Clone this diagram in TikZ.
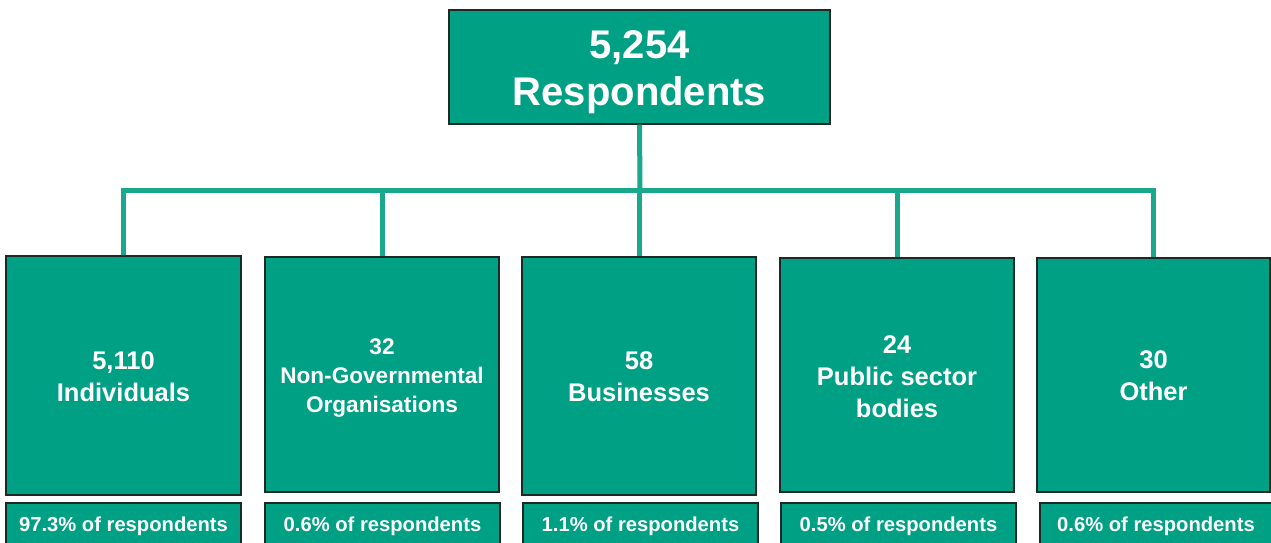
\documentclass[tikz,border=0pt]{standalone}
\usepackage{fontspec}
\setmainfont{Liberation Sans}
\definecolor{teal1}{RGB}{0,160,132}
\definecolor{connc}{RGB}{26,168,140}
\definecolor{edge}{RGB}{30,40,36}
\tikzset{
  box/.style={draw=edge, line width=1.3pt, fill=teal1, inner sep=0pt},
  txt/.style={text=white, inner sep=0pt, align=center},
  bigtxt/.style={txt, font=\fontsize{40}{47}\selectfont\bfseries},
  midtxt/.style={txt, font=\fontsize{25.5}{32}\selectfont\bfseries},
  smalltxt/.style={txt, font=\fontsize{22.6}{29}\selectfont\bfseries},
  striptxt/.style={txt, font=\fontsize{20.2}{24}\selectfont\bfseries},
  conn/.style={draw=connc, line width=5pt}
}
\begin{document}
\begin{tikzpicture}[x=1pt,y=-1pt]
\useasboundingbox (0,0) rectangle (1271,542);
\clip (0,0) rectangle (1271,542);
\node[box, minimum width=381pt, minimum height=114pt] (top) at (639.5,67) {};
\node[bigtxt] (ttop) at ([yshift=-5pt]top.center) {5,254\\Respondents};
\node[box, minimum width=235pt, minimum height=239pt] (b1) at (123.5,375.5) {};
\node[midtxt] (t1) at ([yshift=-1pt]b1.center) {5,110\\Individuals};
\node[box, minimum width=234pt, minimum height=235pt] (b2) at (382,374.5) {};
\node[smalltxt] (t2) at ([yshift=-3.5pt]b2.center) {32\\Non-Governmental\\Organisations};
\node[box, minimum width=234pt, minimum height=238pt] (b3) at (639,376) {};
\node[midtxt] (t3) at ([yshift=-1pt]b3.center) {58\\Businesses};
\node[box, minimum width=234pt, minimum height=234pt] (b4) at (897,375) {};
\node[midtxt] (t4) at ([yshift=-2pt]b4.center) {24\\Public sector\\bodies};
\node[box, minimum width=233pt, minimum height=234pt] (b5) at (1153.5,375) {};
\node[midtxt] (t5) at ([yshift=-1pt]b5.center) {30\\Other};
\node[box, minimum width=235pt, minimum height=42pt] (s1) at (123.5,524) {};
\node[striptxt] (p1) at ([yshift=-2pt]s1.center) {97.3\% of respondents};
\node[box, minimum width=235pt, minimum height=42pt] (s2) at (382.5,524) {};
\node[striptxt] (p2) at ([yshift=-2pt]s2.center) {0.6\% of respondents};
\node[box, minimum width=235pt, minimum height=42pt] (s3) at (640.5,524) {};
\node[striptxt] (p3) at ([yshift=-2pt]s3.center) {1.1\% of respondents};
\node[box, minimum width=235pt, minimum height=42pt] (s4) at (898.5,524) {};
\node[striptxt] (p4) at ([yshift=-2pt]s4.center) {0.5\% of respondents};
\node[box, minimum width=232pt, minimum height=42pt] (s5) at (1156,524) {};
\node[striptxt] (p5) at ([yshift=-2pt]s5.center) {0.6\% of respondents};
\coordinate (bus) at (640,190);
\draw[conn] (top.south) -- (bus);
\draw[conn] (b1.north) |- (bus) -| (b5.north);
\draw[conn] (b2.north) -- (b2.north |- bus);
\draw[conn] (b3.north) -- (b3.north |- bus);
\draw[conn] (b4.north) -- (b4.north |- bus);
\end{tikzpicture}
\end{document}
